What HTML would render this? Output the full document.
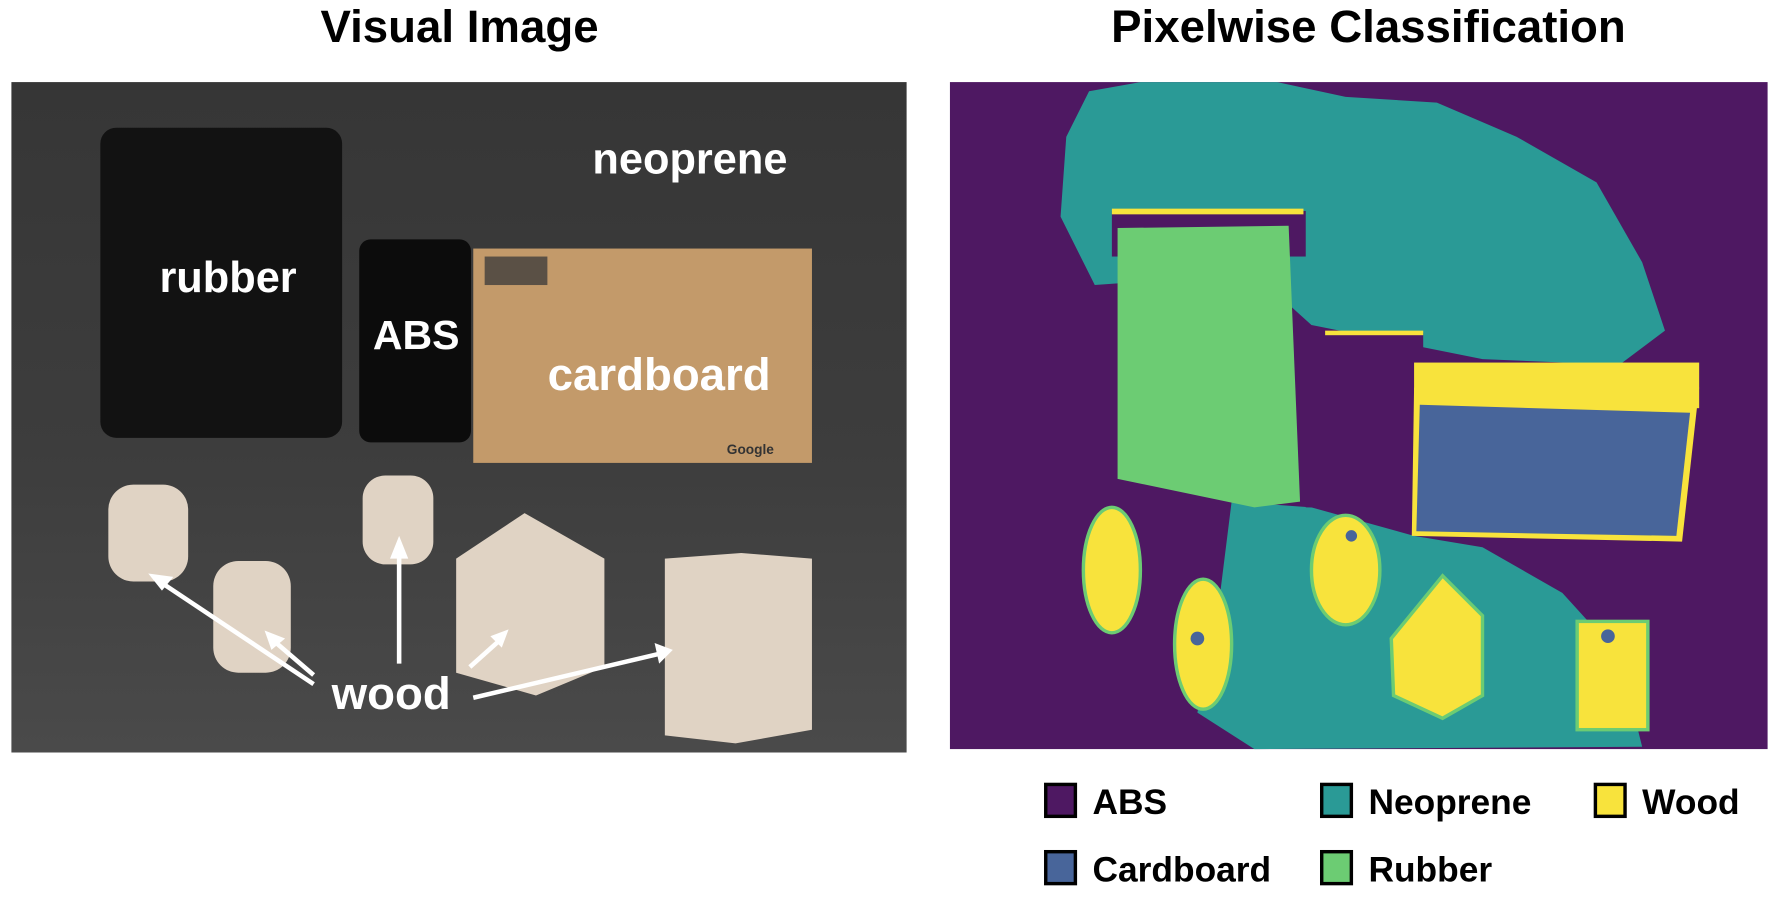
<!DOCTYPE html>
<html><head><meta charset="utf-8"><style>
html,body{margin:0;padding:0;background:#fff;width:1779px;height:903px;overflow:hidden}
svg{display:block}
text{font-family:"Liberation Sans",sans-serif;font-weight:bold}
</style></head><body>
<svg width="1779" height="903" viewBox="0 0 1560 792" preserveAspectRatio="none">
<text x="403" y="37" font-size="40" text-anchor="middle" fill="#000">Visual Image</text>
<text x="1200" y="37" font-size="40" text-anchor="middle" fill="#000">Pixelwise Classification</text>

<g>
<defs><linearGradient id="bg" x1="0" y1="0" x2="0" y2="1"><stop offset="0" stop-color="#363636"/><stop offset="0.55" stop-color="#3d3d3d"/><stop offset="1" stop-color="#4a4a4a"/></linearGradient></defs>
<rect x="10" y="72" width="785" height="588" fill="url(#bg)"/>
<rect x="88" y="112" width="212" height="272" rx="14" fill="#121212"/>
<rect x="315" y="210" width="98" height="178" rx="10" fill="#0c0c0c"/>
<rect x="415" y="218" width="297" height="188" fill="#c39a6a"/>
<rect x="425" y="225" width="55" height="25" fill="#5a5045"/>
<g fill="#e0d3c4">
<rect x="95" y="425" width="70" height="85" rx="22"/>
<rect x="187" y="492" width="68" height="98" rx="22"/>
<rect x="318" y="417" width="62" height="78" rx="20"/>
<polygon points="400,490 460,450 530,490 530,585 470,610 400,590"/>
<polygon points="583,490 650,485 712,490 712,640 645,652 583,645"/>
</g>
<g fill="#fff" stroke="#fff" stroke-width="4">
<line x1="275" y1="600" x2="140" y2="510"/>
<line x1="275" y1="592" x2="240" y2="562"/>
<line x1="350" y1="582" x2="350" y2="485"/>
<line x1="412" y1="585" x2="440" y2="560"/>
<line x1="415" y1="612" x2="580" y2="573"/>
</g>
<g fill="#fff">
<polygon points="130,503 152,506 142,518"/>
<polygon points="232,553 250,560 238,570"/>
<polygon points="342,490 350,470 358,490"/>
<polygon points="446,552 440,568 430,558"/>
<polygon points="590,570 574,564 578,582"/>
</g>
<g fill="#fff" text-anchor="middle">
<text x="605" y="152" font-size="38">neoprene</text>
<text x="200" y="256" font-size="38">rubber</text>
<text x="365" y="306" font-size="36">ABS</text>
<text x="578" y="342" font-size="40">cardboard</text>
<text x="343" y="622" font-size="40">wood</text>
<text x="658" y="398" font-size="12" fill="#333" font-weight="normal">Google</text>
</g>
</g>

<g>
<rect x="833" y="72" width="717" height="585" fill="#4e1862"/>
<polygon points="955,80 1000,72 1120,72 1180,85 1260,90 1330,120 1400,160 1440,230 1460,290 1420,320 1300,315 1150,285 1100,240 960,250 930,190 935,120" fill="#2a9a96"/>
<polygon points="1080,440 1150,445 1240,470 1300,480 1370,520 1420,575 1440,655 1100,657 1050,625 1070,520" fill="#2a9a96"/>
<rect x="975" y="185" width="170" height="40" fill="#4e1862"/>
<rect x="975" y="183" width="168" height="5" fill="#f8e33c"/>
<polygon points="980,200 1130,198 1140,440 1100,445 980,420" fill="#6ccc73"/>
<rect x="1145" y="325" width="95" height="120" fill="#4e1862"/>
<rect x="1160" y="292" width="88" height="35" fill="#4e1862"/>
<rect x="1162" y="290" width="86" height="4" fill="#f8e33c"/>
<rect x="1240" y="318" width="250" height="40" fill="#f8e33c"/>
<polygon points="1240,340 1490,340 1475,475 1238,470" fill="#f8e33c"/>
<polygon points="1245,355 1482,362 1470,470 1242,466" fill="#48659a"/>
<g fill="#f8e33c" stroke="#6ccc73" stroke-width="3">
<ellipse cx="975" cy="500" rx="25" ry="55"/>
<ellipse cx="1055" cy="565" rx="25" ry="57"/>
<ellipse cx="1180" cy="500" rx="30" ry="48"/>
<polygon points="1220,560 1265,505 1300,540 1300,610 1265,630 1222,610"/>
<rect x="1383" y="545" width="62" height="95"/>
</g>
<g fill="#48659a"><circle cx="1050" cy="560" r="6"/><circle cx="1410" cy="558" r="6"/><circle cx="1185" cy="470" r="5"/></g>
</g>

<g>
<g stroke="#000" stroke-width="3">
<rect x="917" y="688" width="26" height="28" fill="#4e1862"/>
<rect x="1159" y="688" width="26" height="28" fill="#2a9a96"/>
<rect x="1399" y="688" width="26" height="28" fill="#f8e33c"/>
<rect x="917" y="747" width="26" height="28" fill="#48659a"/>
<rect x="1159" y="747" width="26" height="28" fill="#6ccc73"/>
</g>
<g font-size="31" fill="#000">
<text x="958" y="714">ABS</text>
<text x="1200" y="714">Neoprene</text>
<text x="1440" y="714">Wood</text>
<text x="958" y="773">Cardboard</text>
<text x="1200" y="773">Rubber</text>
</g>
</g>
</svg>
</body></html>
